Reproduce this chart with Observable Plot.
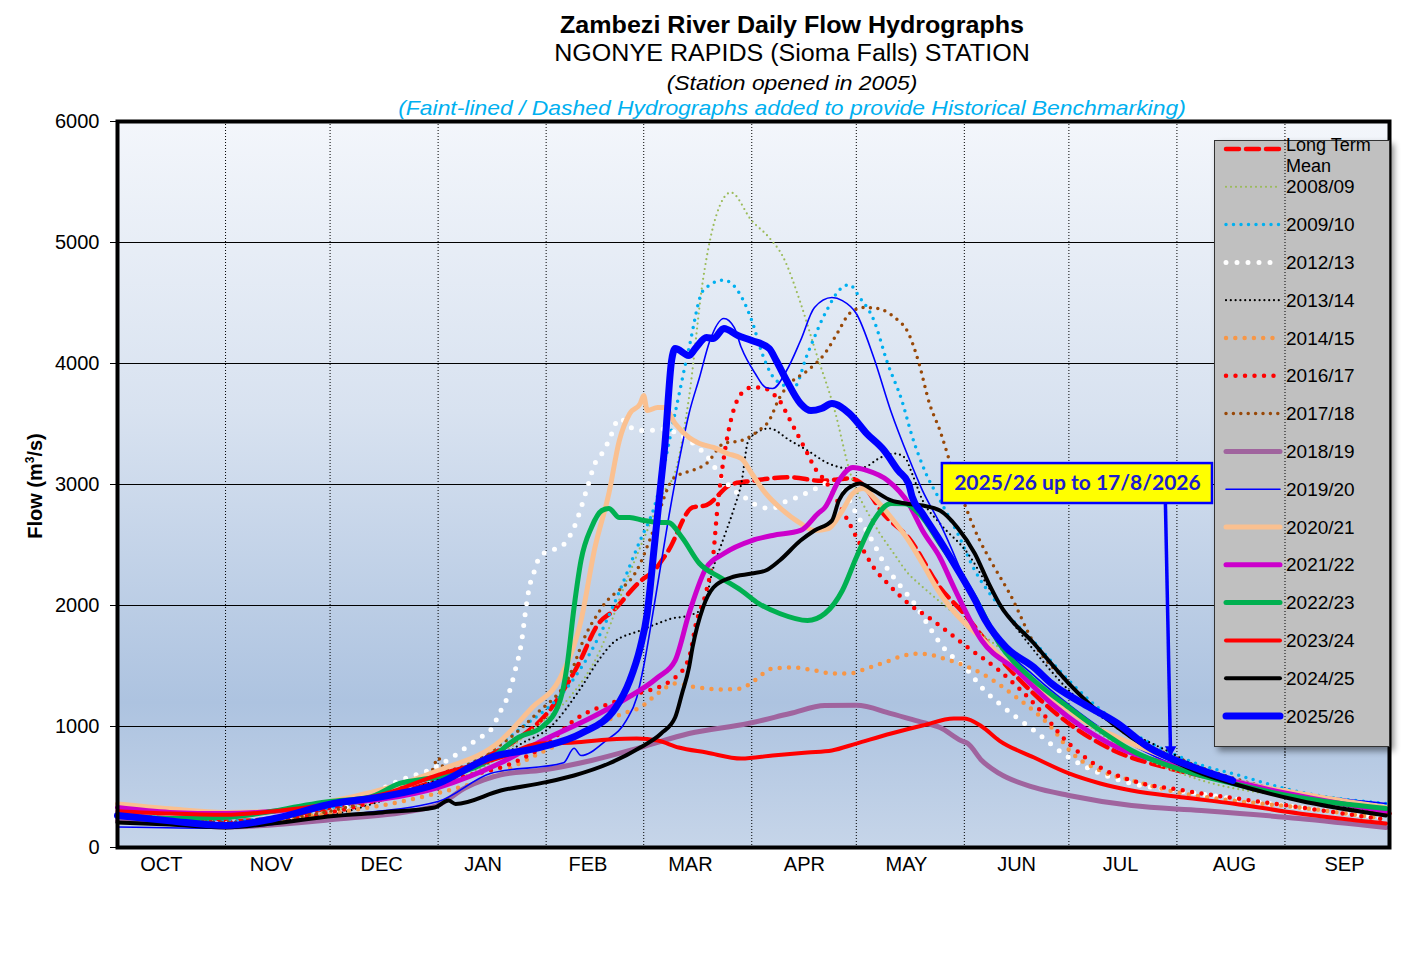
<!DOCTYPE html>
<html>
<head>
<meta charset="utf-8">
<script src="https://cdn.jsdelivr.net/npm/d3@7"></script>
<script src="https://cdn.jsdelivr.net/npm/@observablehq/plot@0.6"></script>
<style>
  html, body { margin: 0; padding: 0; background: #fff; overflow: hidden; }
  #wrap { position: relative; width: 1406px; height: 956px; font-family: "Liberation Sans", Arial, sans-serif; }
  .t { position: absolute; left: 792px; transform: translateX(-50%) scaleX(1.09); white-space: nowrap; line-height: 1; }
  #chart { position: absolute; left: 0; top: 111px; }
  #chart svg { display: block; }
  #ylab { position: absolute; left: 35px; top: 486px; transform: translate(-50%, -50%) rotate(-90deg); font-weight: bold; font-size: 20px; white-space: nowrap; }
  #legend { position: absolute; left: 1214px; top: 140px; }
</style>
</head>
<body>
<div id="wrap">
  <div class="t" style="top:14px;font-size:23px;font-weight:bold;">Zambezi River Daily Flow Hydrographs</div>
  <div class="t" style="top:42px;font-size:23px;">NGONYE RAPIDS (Sioma Falls) STATION</div>
  <div class="t" style="top:72px;font-size:21px;font-style:italic;">(Station opened in 2005)</div>
  <div class="t" style="top:97px;font-size:21px;font-style:italic;color:#00b0f0;">(Faint-lined / Dashed Hydrographs added to provide Historical Benchmarking)</div>
  <div id="chart"></div>
  <div id="ylab">Flow (m<sup style="font-size:12px;">3</sup>/s)</div>
  <div id="legend"></div>
</div>
<script>
// ---------- axis definitions ----------
const monthStarts = [0, 31, 61, 92, 123, 151, 182, 212, 243, 273, 304, 335, 365]; // days since 1 Oct
const monthLabels = ["OCT", "NOV", "DEC", "JAN", "FEB", "MAR", "APR", "MAY", "JUN", "JUL", "AUG", "SEP"];
const monthLabelDays = [12.6, 44.2, 75.8, 104.9, 135, 164.4, 197.1, 226.4, 258, 287.8, 320.5, 352.1];
const yTicks = [0, 1000, 2000, 3000, 4000, 5000, 6000];

// ---------- series: [day since 1 Oct, flow m3/s] ----------
const longTermMean = [[0,270],[15,240],[30,215],[45,240],[61,330],[76,420],[92,560],[106,750],[115,900],[123,1100],[132,1500],[138,1850],[142,1950],[150,2200],[154,2290],[158,2450],[165,2810],[169,2830],[176,3000],[182,3030],[193,3060],[202,3030],[210,3050],[213,3020],[220,2750],[227,2560],[236,2150],[243,1930],[253,1570],[265,1215],[273,1025],[286,800],[301,660],[318,550],[335,440],[350,370],[365,280]];
const s2008_09 = [[0,230],[31,200],[61,300],[92,520],[106,680],[120,1000],[130,1250],[138,1600],[146,2200],[151,2550],[157,2950],[160,3100],[164,3720],[168,4690],[172,5240],[176,5413],[182,5180],[187,5040],[191,4880],[196,4500],[200,4130],[206,3590],[210,3120],[217,2680],[223,2420],[227,2260],[230,2180],[239,1960],[253,1650],[268,1270],[282,940],[296,720],[311,555],[335,420],[365,300]];
const s2009_10 = [[0,280],[31,220],[61,330],[92,560],[116,990],[129,1320],[138,1735],[142,1980],[150,2540],[154,2810],[160,3590],[164,4130],[168,4600],[174,4690],[178,4600],[182,4355],[185,4080],[189,3860],[194,3800],[198,4080],[203,4410],[208,4630],[210,4650],[213,4545],[217,4360],[221,4000],[225,3700],[228,3400],[232,3090],[236,2870],[241,2600],[246,2290],[249,2150],[253,2000],[263,1700],[273,1380],[282,1140],[291,950],[301,800],[311,680],[320,610],[339,460],[364,364]];
const s2012_13 = [[0,260],[31,200],[61,280],[70,400],[81,554],[91,661],[96,744],[100,826],[104,909],[107,967],[110,1132],[112,1250],[114,1450],[116,1711],[117,1934],[118,2124],[120,2314],[121,2397],[124,2454],[127,2479],[131,2645],[135,2992],[137,3174],[139,3256],[141,3363],[144,3545],[149,3446],[153,3446],[155,3463],[166,3320],[169,3240],[173,3074],[177,2950],[180,2893],[182,2851],[185,2810],[188,2802],[191,2851],[195,2893],[198,2934],[201,2975],[203,3008],[207,2990],[212,2760],[217,2512],[220,2347],[225,2149],[228,2041],[237,1653],[244,1463],[248,1322],[253,1190],[263,967],[273,744],[282,612],[291,529],[304,471],[320,405],[339,331],[363,248]];
const s2013_14 = [[0,250],[31,200],[61,270],[92,560],[110,750],[116,860],[124,990],[133,1320],[138,1545],[142,1686],[150,1793],[155,1851],[159,1892],[164,1917],[168,1980],[171,2314],[174,2562],[177,2810],[179,3008],[181,3363],[183,3421],[187,3463],[193,3363],[198,3281],[204,3174],[210,3132],[214,3140],[219,3223],[223,3256],[226,3220],[228,3090],[231,2870],[236,2678],[244,2430],[250,2149],[253,2016],[263,1628],[277,1190],[291,942],[301,802],[311,650],[335,440],[364,290]];
const s2014_15 = [[0,240],[31,190],[61,280],[92,450],[107,579],[121,777],[136,983],[145,1107],[150,1157],[155,1273],[160,1355],[165,1330],[173,1306],[179,1314],[182,1364],[188,1479],[194,1488],[200,1463],[205,1438],[210,1438],[215,1479],[220,1529],[227,1595],[230,1603],[239,1545],[248,1438],[258,1240],[268,992],[274,777],[282,636],[291,554],[306,446],[320,388],[339,331],[363,240]];
const s2016_17 = [[0,260],[31,200],[61,290],[92,540],[115,720],[123,850],[131,1050],[146,1240],[160,1405],[164,1570],[166,1851],[169,2124],[171,2430],[172,2760],[174,3223],[176,3529],[179,3752],[182,3802],[185,3802],[188,3752],[190,3694],[192,3587],[195,3421],[198,3256],[200,3140],[203,3033],[210,2678],[213,2512],[217,2314],[221,2182],[227,2016],[234,1876],[244,1653],[253,1463],[263,1190],[273,859],[282,661],[291,554],[306,471],[335,350],[364,230]];
const s2017_18 = [[0,260],[31,210],[61,300],[86,560],[90,620],[92,740],[94,640],[110,850],[120,1100],[130,1438],[134,1735],[139,1983],[150,2347],[153,2562],[158,2975],[159,3033],[162,3091],[165,3116],[169,3174],[174,3339],[179,3363],[184,3446],[187,3529],[190,3719],[193,3835],[198,3942],[203,4083],[207,4273],[210,4413],[214,4463],[218,4455],[223,4380],[227,4248],[230,4000],[233,3669],[236,3446],[239,3174],[243,2843],[247,2562],[251,2347],[256,2099],[263,1686],[273,1355],[282,1107],[291,909],[301,777],[311,661],[335,460],[364,320]];
const s2018_19 = [[0,220],[15,200],[31,170],[61,230],[91,340],[100,496],[110,600],[122,640],[136,719],[150,826],[164,942],[181,1025],[193,1107],[203,1173],[212,1175],[222,1107],[231,1033],[236,992],[242,884],[244,859],[248,719],[253,612],[263,496],[273,430],[291,347],[311,306],[339,240],[364,165]];
const s2019_20 = [[0,170],[31,160],[61,260],[92,380],[107,612],[128,700],[131,820],[133,760],[140,880],[146,1050],[149,1240],[151,1500],[154,2000],[158,2700],[161,3174],[164,3587],[167,3884],[170,4190],[174,4372],[177,4297],[179,4132],[183,3917],[186,3802],[188,3793],[192,3942],[196,4190],[200,4463],[205,4545],[208,4520],[212,4413],[217,4050],[222,3600],[227,3223],[231,2950],[236,2678],[246,2041],[253,1700],[263,1420],[273,1180],[282,990],[291,850],[301,710],[311,620],[320,565],[339,450],[364,364]];
const s2020_21 = [[0,360],[15,320],[31,290],[45,300],[61,380],[76,480],[92,636],[110,884],[119,1157],[127,1400],[133,1876],[137,2479],[141,2926],[144,3363],[147,3587],[150,3669],[151,3735],[152,3611],[155,3636],[157,3636],[160,3504],[164,3388],[167,3339],[171,3306],[175,3256],[179,3215],[182,3091],[186,2926],[190,2810],[196,2678],[200,2620],[204,2636],[208,2785],[211,2926],[214,2967],[217,2893],[222,2727],[227,2537],[231,2347],[236,2100],[240,1950],[249,1700],[258,1463],[268,1240],[277,1050],[287,909],[301,744],[320,554],[339,446],[364,331]];
const s2021_22 = [[0,330],[15,290],[31,280],[45,300],[61,360],[76,400],[92,496],[110,700],[122,884],[136,1074],[145,1215],[155,1405],[160,1545],[164,1934],[169,2314],[174,2430],[182,2537],[188,2579],[196,2620],[201,2760],[203,2810],[207,3033],[211,3140],[215,3116],[221,3033],[227,2843],[231,2620],[236,2397],[240,2150],[248,1711],[258,1463],[268,1190],[277,992],[287,826],[301,694],[316,579],[335,450],[364,300]];
const s2022_23 = [[0,260],[15,240],[31,250],[61,380],[72,413],[81,529],[91,579],[105,694],[115,909],[122,1000],[127,1215],[129,1500],[131,1983],[133,2372],[136,2645],[139,2785],[141,2802],[144,2727],[147,2727],[151,2702],[156,2686],[158,2686],[162,2562],[167,2347],[173,2231],[179,2124],[184,2016],[190,1934],[198,1876],[203,1934],[208,2124],[212,2397],[217,2702],[222,2843],[226,2840],[230,2760],[236,2512],[246,2066],[253,1686],[263,1380],[273,1157],[282,967],[291,802],[306,636],[320,529],[339,413],[364,322]];
const s2023_24 = [[0,300],[15,280],[31,270],[45,300],[61,360],[77,446],[92,600],[110,744],[121,859],[131,868],[141,893],[149,901],[155,884],[161,826],[169,785],[179,735],[188,760],[198,785],[205,802],[212,859],[222,942],[231,1008],[240,1066],[243,1066],[248,1000],[253,884],[263,744],[273,612],[282,529],[291,471],[306,413],[320,364],[339,281],[364,198]];
const s2024_25 = [[0,207],[15,190],[31,165],[45,200],[62,260],[76,290],[91,331],[95,388],[97,360],[110,471],[123,540],[131,595],[141,694],[150,826],[156,942],[160,1074],[162,1273],[164,1488],[165,1653],[168,1983],[171,2149],[176,2231],[182,2264],[186,2289],[190,2372],[196,2537],[200,2620],[205,2702],[207,2868],[211,2992],[213,3008],[217,2950],[222,2868],[226,2843],[231,2826],[236,2785],[241,2645],[246,2430],[250,2182],[253,2016],[263,1686],[273,1355],[282,1107],[291,909],[301,744],[311,612],[320,529],[339,388],[364,264]];
const s2025_26 = [[0,264],[15,220],[31,182],[45,240],[62,364],[76,420],[92,529],[107,744],[121,826],[133,942],[143,1157],[147,1380],[150,1653],[152,1934],[154,2479],[156,3033],[157,3306],[159,4025],[160,4124],[164,4066],[166,4132],[169,4215],[171,4207],[174,4289],[178,4231],[182,4190],[187,4124],[189,4025],[192,3860],[196,3669],[199,3611],[202,3628],[205,3669],[210,3587],[215,3421],[220,3281],[224,3116],[227,3008],[228,2900],[231,2760],[236,2537],[241,2300],[246,2050],[249,1880],[255,1653],[263,1488],[268,1355],[277,1190],[287,1025],[296,826],[306,694],[320,554]];

// annotation (data coordinates)
const annotationText = "2025/26 up to 17/8/2026";
const annotationBox = {x1: 236.7, x2: 314.2, y1: 2843, y2: 3173};
const annotationArrow = {x1: 300.7, y1: 2843, x2: 302.2, y2: 744};

// ---------- styles ----------
const seriesStyles = [
  {name: "Long Term Mean", data: longTermMean, stroke: "#ff0000", width: 4.5, dash: "13,7", cap: "round"},
  {name: "2008/09", data: s2008_09, stroke: "#9bbb59", width: 2.2, dash: "0,5", cap: "round"},
  {name: "2009/10", data: s2009_10, stroke: "#00b0f0", width: 3.5, dash: "0,7.5", cap: "round"},
  {name: "2012/13", data: s2012_13, stroke: "#ffffff", width: 5, dash: "0,11", cap: "round"},
  {name: "2013/14", data: s2013_14, stroke: "#000000", width: 2.2, dash: "0,4.8", cap: "round"},
  {name: "2014/15", data: s2014_15, stroke: "#f79646", width: 4.5, dash: "0,9.3", cap: "round"},
  {name: "2016/17", data: s2016_17, stroke: "#ff0000", width: 4.5, dash: "0,9.5", cap: "round"},
  {name: "2017/18", data: s2017_18, stroke: "#984807", width: 3.5, dash: "0,7.4", cap: "round"},
  {name: "2018/19", data: s2018_19, stroke: "#a0649e", width: 5, dash: null, cap: "round"},
  {name: "2019/20", data: s2019_20, stroke: "#0000ff", width: 1.6, dash: null, cap: "round"},
  {name: "2020/21", data: s2020_21, stroke: "#fac090", width: 5, dash: null, cap: "round"},
  {name: "2021/22", data: s2021_22, stroke: "#cc00cc", width: 5, dash: null, cap: "round"},
  {name: "2022/23", data: s2022_23, stroke: "#00b050", width: 5, dash: null, cap: "round"},
  {name: "2023/24", data: s2023_24, stroke: "#ff0000", width: 4, dash: null, cap: "round"},
  {name: "2024/25", data: s2024_25, stroke: "#000000", width: 4, dash: null, cap: "round"},
  {name: "2025/26", data: s2025_26, stroke: "#0000ff", width: 7, dash: null, cap: "round"}
];

const midLabel = new Map(monthLabelDays.map((d, i) => [d, monthLabels[i]]));

const lineMarks = seriesStyles.map(s => Plot.line(s.data, {
  x: d => d[0], y: d => d[1],
  stroke: s.stroke, strokeWidth: s.width,
  strokeDasharray: s.dash || undefined,
  strokeLinecap: s.cap, strokeLinejoin: "round",
  curve: "monotone-x"
}));

const svg = Plot.plot({
  width: 1406,
  height: 786,
  marginTop: 10,
  marginBottom: 50,
  marginLeft: 117,
  marginRight: 17,
  style: {fontFamily: "'Liberation Sans', Arial, sans-serif", fontSize: "20px", color: "#000", background: "transparent"},
  x: {domain: [0, 365]},
  y: {domain: [0, 6000]},
  marks: [
    Plot.frame({fill: "url(#bgGrad)", stroke: null}),
    Plot.ruleY(yTicks.slice(1, -1), {stroke: "#000", strokeWidth: 1}),
    Plot.ruleX(monthStarts.slice(1, -1), {stroke: "#000", strokeWidth: 1, strokeDasharray: "1,2"}),
    ...lineMarks,
    Plot.rect([annotationBox], {x1: "x1", x2: "x2", y1: "y1", y2: "y2", fill: "#ffff00", stroke: "#0000ff", strokeWidth: 2.5}),
    Plot.text([annotationBox], {x: d => (d.x1 + d.x2) / 2, y: d => (d.y1 + d.y2) / 2, text: () => annotationText,
      fill: "#1c1cd0", fontWeight: "bold", fontSize: 21, fontFamily: "Lato, 'Open Sans', sans-serif"}),
    Plot.link([annotationArrow], {x1: "x1", y1: "y1", x2: "x2", y2: "y2", stroke: "#0000ff", strokeWidth: 3.5}),
    Plot.dot([annotationArrow], {x: "x2", y: "y2", symbol: "triangle2", r: 5.5, rotate: 180, fill: "#0000ff", dy: -8}),
    Plot.frame({stroke: "#000", strokeWidth: 4}),
    Plot.axisY(yTicks, {tickSize: 7, tickPadding: 11, fontSize: 20, label: null, tickFormat: d => String(d)}),
    Plot.axisX(monthLabelDays, {tickSize: 0, tickPadding: 9, fontSize: 20, label: null, tickFormat: d => midLabel.get(d)})
  ]
});

const defs = d3.select(svg).insert("defs", ":first-child");
const grad = defs.append("linearGradient").attr("id", "bgGrad").attr("x1", 0).attr("y1", 0).attr("x2", 0).attr("y2", 1);
[[0, "#f3f6fb"], [0.4, "#d8e2f0"], [0.8, "#adc3e0"], [1, "#c6d5e9"]].forEach(([o, c]) =>
  grad.append("stop").attr("offset", o).attr("stop-color", c));

document.getElementById("chart").appendChild(svg);

// ---------- legend (HTML overlay) ----------
const legW = 175, legH = 606, rowH = 37.8, row0 = 9;
const leg = d3.select("#legend").append("svg")
  .attr("width", legW + 10).attr("height", legH + 10)
  .style("overflow", "visible")
  .style("font-family", "'Liberation Sans', Arial, sans-serif");
const sh = leg.append("defs").append("filter").attr("id", "shadow").attr("x", "-10%").attr("y", "-10%").attr("width", "130%").attr("height", "130%");
sh.append("feDropShadow").attr("dx", 4).attr("dy", 4).attr("stdDeviation", 3).attr("flood-color", "#000").attr("flood-opacity", 0.45);
leg.append("rect").attr("x", 0.5).attr("y", 0.5).attr("width", legW).attr("height", legH)
  .attr("fill", "#c0c0c0").attr("stroke", "#333").attr("stroke-width", 1).attr("filter", "url(#shadow)");
// September gridline shows through the legend
leg.append("line").attr("x1", 71).attr("x2", 71).attr("y1", 0).attr("y2", legH + 10)
  .attr("stroke", "#000").attr("stroke-width", 1).attr("stroke-dasharray", "1,2");
seriesStyles.forEach((s, i) => {
  const cy = row0 + rowH * i;
  leg.append("line").attr("x1", 12).attr("x2", 66).attr("y1", cy).attr("y2", cy)
    .attr("stroke", s.stroke).attr("stroke-width", s.width)
    .attr("stroke-dasharray", s.dash).attr("stroke-linecap", s.cap);
  if (i === 0) {
    // two-line label, as in the reference
    leg.append("text").attr("x", 72).attr("y", cy - 4).attr("dy", "0.35em")
      .attr("font-size", 18).attr("fill", "#000").text("Long Term");
    leg.append("text").attr("x", 72).attr("y", cy - 4 + 20.5).attr("dy", "0.35em")
      .attr("font-size", 18).attr("fill", "#000").text("Mean");
  } else {
    leg.append("text").attr("x", 72).attr("y", cy).attr("dy", "0.35em")
      .attr("font-size", 19).attr("fill", "#000").text(s.name);
  }
});
</script>
</body>
</html>
